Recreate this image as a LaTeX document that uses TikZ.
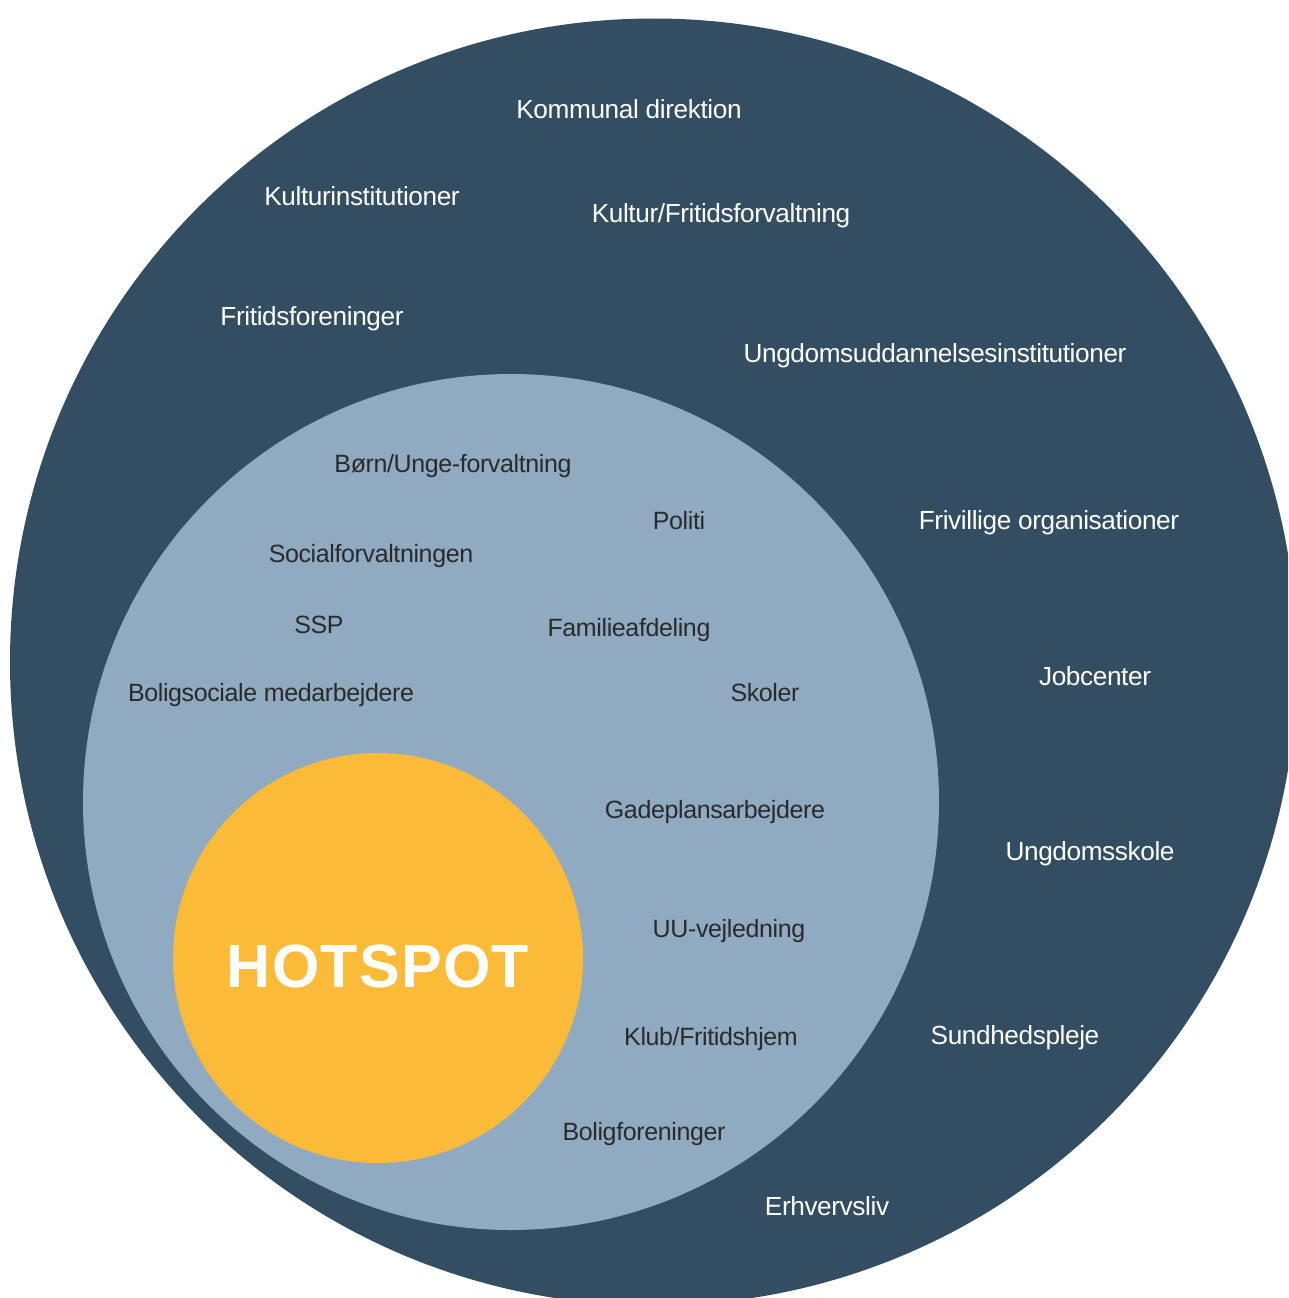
\documentclass[tikz,border=0pt]{standalone}
\usepackage{fontspec}
\setmainfont{Liberation Sans}[LetterSpace=-1.5]
\newfontfamily\hotfont{Liberation Sans}[LetterSpace=2]
\definecolor{outerblue}{HTML}{334E63}
\definecolor{innerblue}{HTML}{90AAC1}
\definecolor{hotyellow}{HTML}{FBBB39}
\definecolor{darktext}{HTML}{2A2A2A}
\tikzset{
  disc/.style={circle, inner sep=0pt, draw=none},
  outerlbl/.style={anchor=base, text=white, inner sep=0pt, font=\fontsize{26.2}{31}\selectfont},
  innerlbl/.style={anchor=base, text=darktext, inner sep=0pt, font=\fontsize{25}{30}\selectfont},
  hotlbl/.style={anchor=base, text=white, inner sep=0pt, font=\hotfont\fontsize{61}{70}\selectfont\bfseries}
}
\begin{document}
\begin{tikzpicture}[x=1pt,y=-1pt]
\useasboundingbox (0,0) rectangle (1288,1298);
\clip (0,0) rectangle (1288,1298);
\fill[white] (0,0) rectangle (1288,1298);
\node[disc, fill=outerblue, minimum size=1287pt] (outer) at (653.5,662) {};
\node[disc, fill=innerblue, minimum size=856pt] (inner) at (511,802) {};
\node[disc, fill=hotyellow, minimum size=410pt] (hot) at (378,958) {};
% outer labels
\node[outerlbl] (kd) at (629,118) {Kommunal direktion};
\node[outerlbl] (ki) at (362,205) {Kulturinstitutioner};
\node[outerlbl] (kf) at (721,222) {Kultur/Fritidsforvaltning};
\node[outerlbl] (ff) at (312,325) {Fritidsforeninger};
\node[outerlbl] (ui) at (935,362) {Ungdomsuddannelsesinstitutioner};
\node[outerlbl] (fo) at (1049,529) {Frivillige organisationer};
\node[outerlbl] (jc) at (1095,685) {Jobcenter};
\node[outerlbl] (us) at (1090,860) {Ungdomsskole};
\node[outerlbl] (sp) at (1015,1044) {Sundhedspleje};
\node[outerlbl] (el) at (827,1215) {Erhvervsliv};
% inner labels
\node[innerlbl] (bu) at (453,472) {Børn/Unge-forvaltning};
\node[innerlbl] (po) at (679,529) {Politi};
\node[innerlbl] (sf) at (371,562) {Socialforvaltningen};
\node[innerlbl] (ssp) at (319,633) {SSP};
\node[innerlbl] (fa) at (629,636) {Familieafdeling};
\node[innerlbl] (bm) at (271,701) {Boligsociale medarbejdere};
\node[innerlbl] (sk) at (765,701) {Skoler};
\node[innerlbl] (ga) at (715,818) {Gadeplansarbejdere};
\node[innerlbl] (uu) at (729,937) {UU-vejledning};
\node[innerlbl] (kl) at (711,1045) {Klub/Fritidshjem};
\node[innerlbl] (bf) at (644,1140) {Boligforeninger};
% hotspot
\node[hotlbl] (hs) at (378,987) {HOTSPOT};
\end{tikzpicture}
\end{document}
